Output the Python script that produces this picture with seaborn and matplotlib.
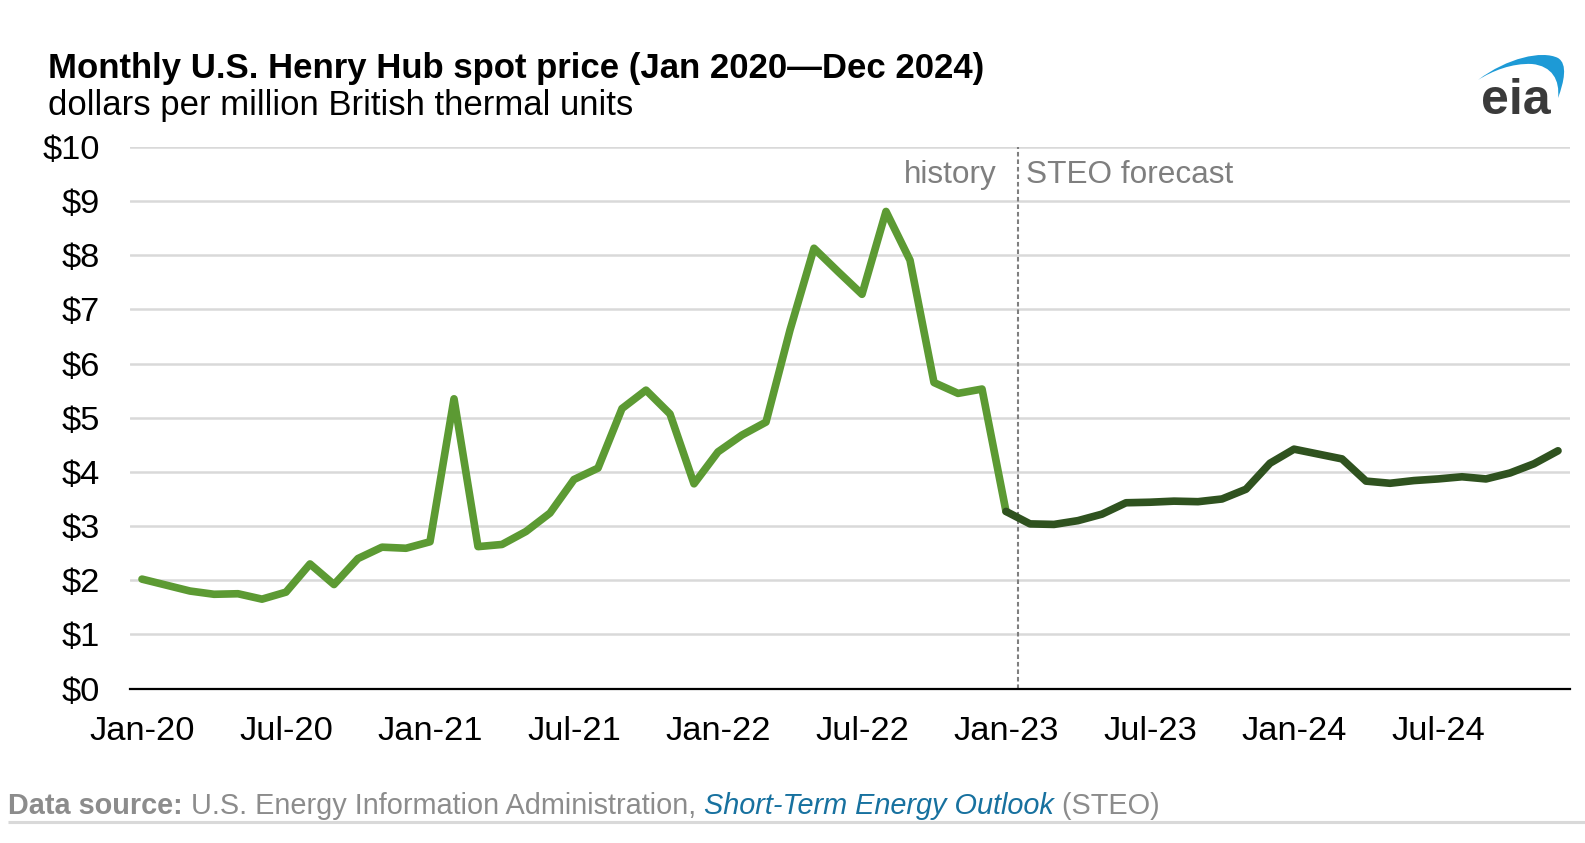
import numpy as np
import pandas as pd
import matplotlib
matplotlib.use("Agg")
import matplotlib.pyplot as plt
import seaborn as sns
from matplotlib.path import Path
from matplotlib.patches import PathPatch

# monthly Henry Hub spot price, $/MMBtu
history = [2.02, 1.91, 1.80, 1.74, 1.75, 1.65, 1.78, 2.30, 1.92, 2.40, 2.61, 2.59,
           2.71, 5.35, 2.62, 2.66, 2.90, 3.24, 3.86, 4.07, 5.17, 5.51, 5.07, 3.78,
           4.37, 4.68, 4.92, 6.62, 8.13, 7.70, 7.28, 8.81, 7.91, 5.65, 5.45, 5.53,
           3.27]  # Jan-20 .. Jan-23
forecast = [3.27, 3.04, 3.03, 3.10, 3.22, 3.43, 3.44, 3.46, 3.45, 3.50, 3.68, 4.16,
            4.42, 4.33, 4.24, 3.83, 3.79, 3.84, 3.87, 3.91, 3.87, 3.98, 4.15, 4.39]  # Jan-23 .. Dec-24
tick_labels = ["Jan-20", "Jul-20", "Jan-21", "Jul-21", "Jan-22", "Jul-22",
               "Jan-23", "Jul-23", "Jan-24", "Jul-24"]
y_labels = ["$0", "$1", "$2", "$3", "$4", "$5", "$6", "$7", "$8", "$9", "$10"]

n_months = 60
df_hist = pd.DataFrame({"month": np.arange(len(history)), "price": history})
df_fc = pd.DataFrame({"month": np.arange(n_months - len(forecast), n_months), "price": forecast})

sns.set_theme(style="white")
plt.rcParams['font.family'] = ['Liberation Sans', 'DejaVu Sans']

W, H = 1585, 843
fig = plt.figure(figsize=(W / 100, H / 100), dpi=100)
fig.patch.set_facecolor("white")
ax = fig.add_axes([130 / W, (H - 688.5) / H, 1440 / W, (688.5 - 147) / H])

green = "#5c9a33"
dark = "#2f521f"
sns.lineplot(data=df_hist, x="month", y="price", ax=ax, color=green, linewidth=5.5,
             solid_joinstyle="round", solid_capstyle="round", zorder=3)
sns.lineplot(data=df_fc, x="month", y="price", ax=ax, color=dark, linewidth=5.5,
             solid_joinstyle="round", solid_capstyle="round", zorder=4)

ax.set_xlim(-0.5, n_months - 0.5)
ax.set_ylim(0, 10)
ax.set_xlabel("")
ax.set_ylabel("")

# y axis
ax.set_yticks(range(11))
ax.set_yticklabels(y_labels)
ax.tick_params(axis="y", length=0, pad=21.5, labelsize=24.8, colors="black")
for v in range(1, 11):
    ax.axhline(v, color="#d9d9d9", lw=1.8, zorder=1)

# x axis: tick marks at half-year boundaries, labels centred on months
ax.set_xticks(np.arange(-0.5, n_months, 6))
ax.set_xticklabels([])
ax.tick_params(axis="x", which="major", length=8.5, width=1.5, color="black", direction="out")
ax.set_xticks(np.arange(0, n_months, 6), minor=True)
ax.set_xticklabels(tick_labels, minor=True)
ax.tick_params(axis="x", which="minor", length=0, pad=20, labelsize=24.8, labelcolor="black")

for s in ["top", "right", "left"]:
    ax.spines[s].set_visible(False)
ax.spines["bottom"].set_color("black")
ax.spines["bottom"].set_linewidth(1.6)

# history / forecast divider
ax.axvline(len(history) - 0.5, color="#7f7f7f", lw=1.5, ls=(0, (2.2, 1.4)), zorder=2)

# overlay in pixel coordinates for titles, notes and logo
ov = fig.add_axes([0, 0, 1, 1], facecolor="none")
ov.set_xlim(0, W)
ov.set_ylim(H, 0)
ov.axis("off")

ov.text(48, 78, "Monthly U.S. Henry Hub spot price (Jan 2020\u2014Dec 2024)",
        fontsize=25, fontweight="bold", color="black", va="baseline", ha="left")
ov.text(48, 115, "dollars per million British thermal units",
        fontsize=25, color="black", va="baseline", ha="left")

ov.text(997, 183, "history", fontsize=22.7, color="#7f7f7f", ha="right", va="baseline")
ov.text(1026, 183, "STEO forecast", fontsize=22.7, color="#7f7f7f", ha="left", va="baseline")

# data source line with mixed styles
fig.canvas.draw()
renderer = fig.canvas.get_renderer()
pieces = [("Data source: ", "bold", "normal", "#8c8c8c"),
          ("U.S. Energy Information Administration, ", "normal", "normal", "#8c8c8c"),
          ("Short-Term Energy Outlook", "normal", "italic", "#17719f"),
          (" (STEO)", "normal", "normal", "#8c8c8c")]
x = 8
for txt, wt, st, col in pieces:
    t = ov.text(x, 814, txt, fontsize=20.8, fontweight=wt, fontstyle=st, color=col,
                ha="left", va="baseline")
    bb = t.get_window_extent(renderer=renderer)
    x += bb.width
ov.plot([8, W], [822, 822], color="#d9d9d9", lw=2.2, solid_capstyle="butt")

# eia logo
ov.text(1516, 114, "eia", fontsize=36, fontweight="bold", color="#3a3a3a",
        ha="center", va="baseline")
verts = [(1478, 80), (1507, 58), (1542, 50), (1558, 58),
         (1568, 64), (1564, 82), (1558, 98),
         (1560, 80), (1552, 66), (1532, 64),
         (1512, 63), (1492, 71), (1478, 80)]
codes = [Path.MOVETO, Path.CURVE4, Path.CURVE4, Path.CURVE4,
         Path.CURVE4, Path.CURVE4, Path.CURVE4,
         Path.CURVE4, Path.CURVE4, Path.CURVE4,
         Path.CURVE4, Path.CURVE4, Path.CURVE4]
ov.add_patch(PathPatch(Path(verts, codes), facecolor="#1d9ad6", edgecolor="none"))

fig.savefig("out.png", dpi=100, facecolor="white")
